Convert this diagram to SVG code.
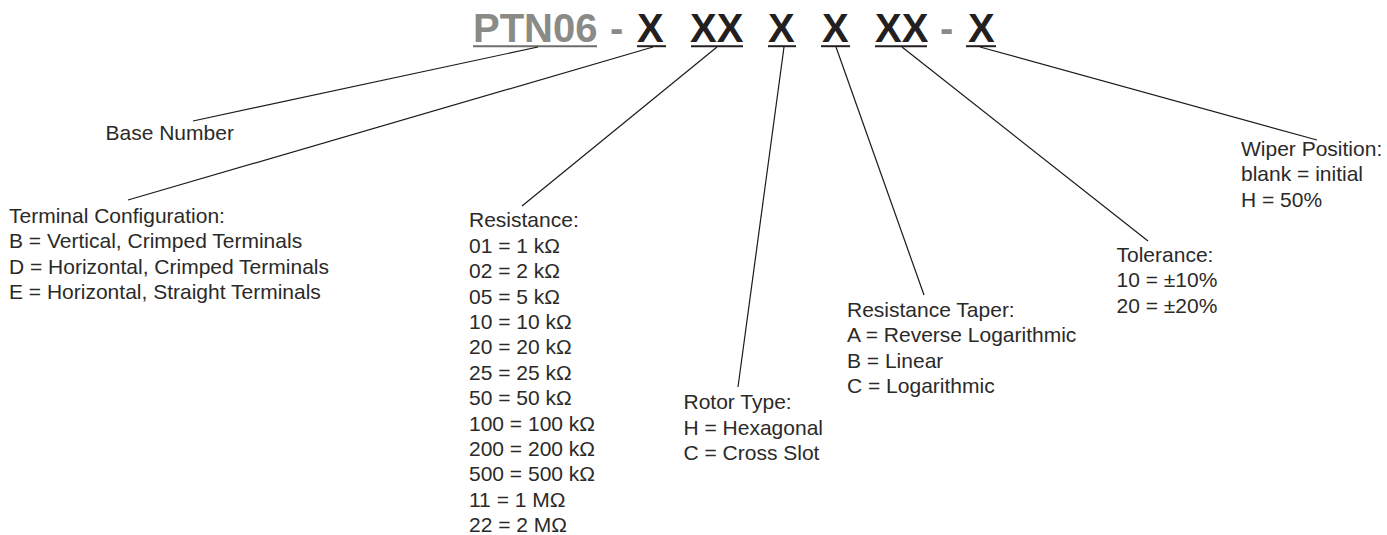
<svg xmlns="http://www.w3.org/2000/svg" width="1387" height="535" viewBox="0 0 1387 535">
<style>
.hd{font-family:"Liberation Sans",Arial,sans-serif;font-weight:bold;font-size:40px;}
.g{fill:#8a8a87;}
.k{fill:#231f20;}
.ul{stroke-width:2;}
.ulg{stroke:#6e6e6c;}
.ulk{stroke:#231f20;}
.lb{font-family:"Liberation Sans",Arial,sans-serif;font-size:21px;fill:#2b2a29;}
.cn line{stroke:#1a1a1a;stroke-width:1.2;}
</style>
<rect width="1387" height="535" fill="#ffffff"/>
<g id="header">
<text class="hd g" x="473" y="42">PTN06</text>
<text class="hd g" x="610" y="42">-</text>
<text class="hd k" x="637" y="42">X</text>
<text class="hd k" x="690" y="42">XX</text>
<text class="hd k" x="768" y="42">X</text>
<text class="hd k" x="822" y="42">X</text>
<text class="hd k" x="875" y="42">XX</text>
<text class="hd g" x="940" y="42">-</text>
<text class="hd k" x="968" y="42">X</text>
<line class="ul ulg" x1="473" y1="46.2" x2="597" y2="46.2"/>
<line class="ul ulk" x1="637" y1="46.2" x2="666" y2="46.2"/>
<line class="ul ulk" x1="691" y1="46.2" x2="743" y2="46.2"/>
<line class="ul ulk" x1="768" y1="46.2" x2="796" y2="46.2"/>
<line class="ul ulk" x1="821" y1="46.2" x2="850" y2="46.2"/>
<line class="ul ulk" x1="875" y1="46.2" x2="927" y2="46.2"/>
<line class="ul ulk" x1="966" y1="46.2" x2="996" y2="46.2"/>
</g>
<g id="connectors" class="cn">
<line x1="538" y1="47" x2="193" y2="121"/>
<line x1="653" y1="47" x2="128" y2="200"/>
<line x1="717" y1="47" x2="522" y2="206"/>
<line x1="784" y1="47" x2="738" y2="387"/>
<line x1="836" y1="47" x2="924" y2="295"/>
<line x1="902" y1="47" x2="1148" y2="241"/>
<line x1="980" y1="47" x2="1317" y2="140"/>
</g>
<g id="base-number">
<text class="lb" x="105.5" y="140">Base Number</text>
</g>
<g id="terminal-configuration">
<text class="lb" x="9" y="222.7">Terminal Configuration:</text>
<text class="lb" x="9" y="248.1">B = Vertical, Crimped Terminals</text>
<text class="lb" x="9" y="273.5">D = Horizontal, Crimped Terminals</text>
<text class="lb" x="9" y="298.9">E = Horizontal, Straight Terminals</text>
</g>
<g id="resistance">
<text class="lb" x="469" y="227.3">Resistance:</text>
<text class="lb" x="469" y="252.7">01 = 1 kΩ</text>
<text class="lb" x="469" y="278.1">02 = 2 kΩ</text>
<text class="lb" x="469" y="303.5">05 = 5 kΩ</text>
<text class="lb" x="469" y="328.9">10 = 10 kΩ</text>
<text class="lb" x="469" y="354.3">20 = 20 kΩ</text>
<text class="lb" x="469" y="379.7">25 = 25 kΩ</text>
<text class="lb" x="469" y="405.1">50 = 50 kΩ</text>
<text class="lb" x="469" y="430.5">100 = 100 kΩ</text>
<text class="lb" x="469" y="455.9">200 = 200 kΩ</text>
<text class="lb" x="469" y="481.3">500 = 500 kΩ</text>
<text class="lb" x="469" y="506.7">11 = 1 MΩ</text>
<text class="lb" x="469" y="532.1">22 = 2 MΩ</text>
</g>
<g id="rotor-type">
<text class="lb" x="683.5" y="409.3">Rotor Type:</text>
<text class="lb" x="683.5" y="434.7">H = Hexagonal</text>
<text class="lb" x="683.5" y="460.1">C = Cross Slot</text>
</g>
<g id="resistance-taper">
<text class="lb" x="847" y="316.7">Resistance Taper:</text>
<text class="lb" x="847" y="342.1">A = Reverse Logarithmic</text>
<text class="lb" x="847" y="367.5">B = Linear</text>
<text class="lb" x="847" y="392.9">C = Logarithmic</text>
</g>
<g id="tolerance">
<text class="lb" x="1116.5" y="261.7">Tolerance:</text>
<text class="lb" x="1116.5" y="287.1">10 = ±10%</text>
<text class="lb" x="1116.5" y="312.5">20 = ±20%</text>
</g>
<g id="wiper-position">
<text class="lb" x="1241" y="156">Wiper Position:</text>
<text class="lb" x="1241" y="181.4">blank = initial</text>
<text class="lb" x="1241" y="206.8">H = 50%</text>
</g>
</svg>
